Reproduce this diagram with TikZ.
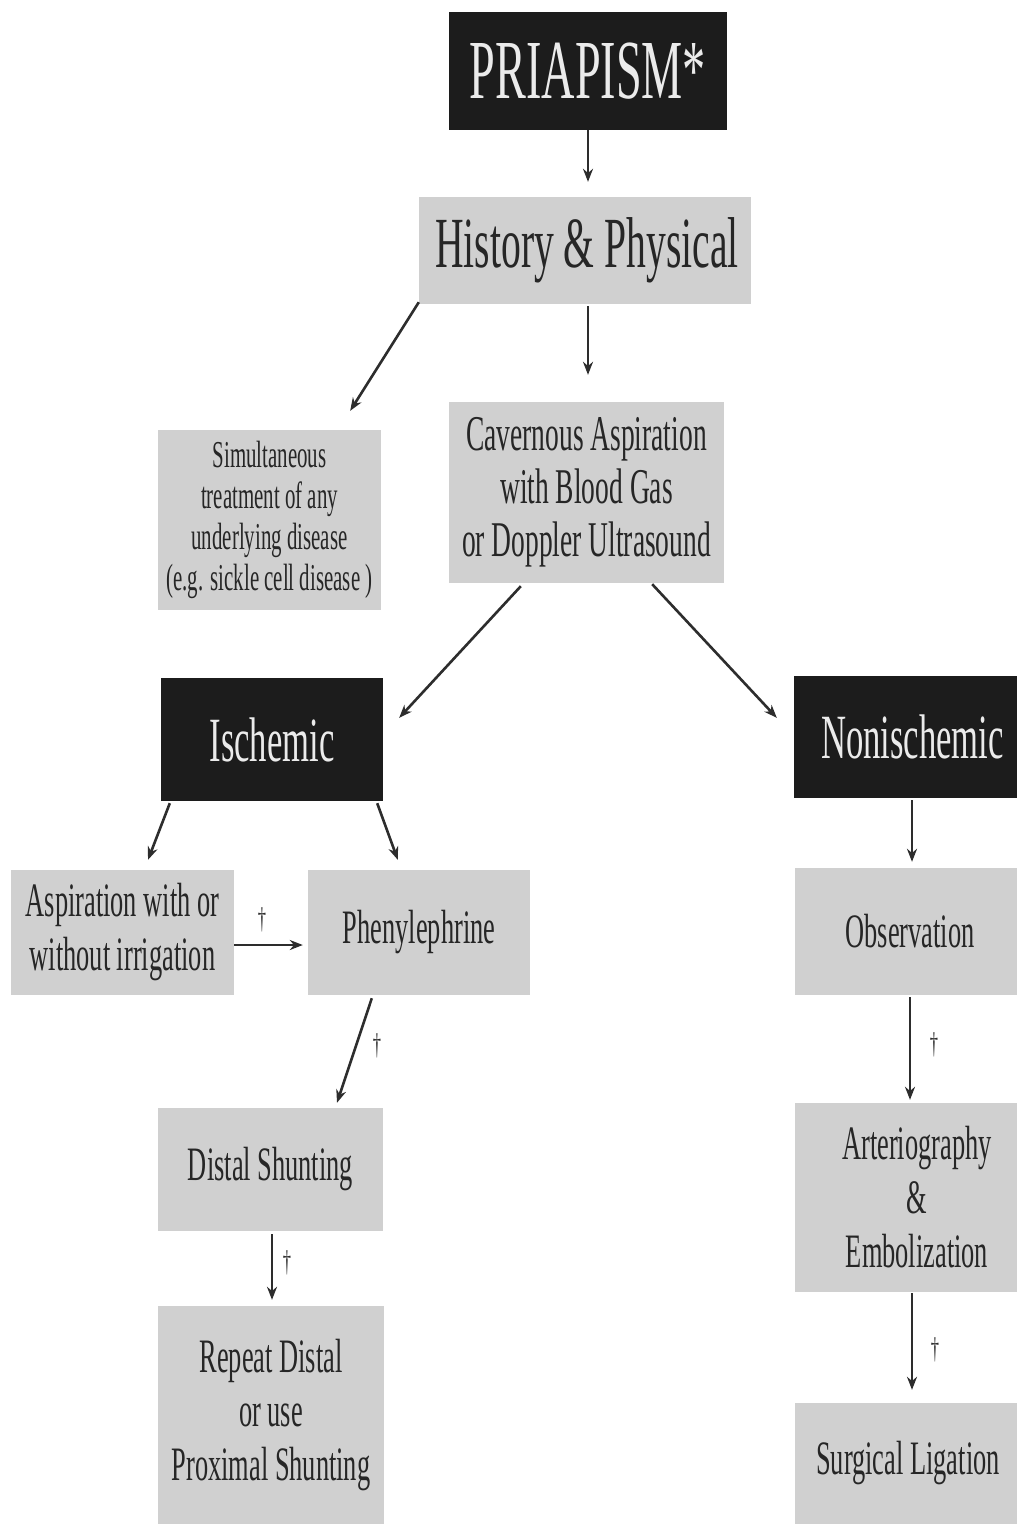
\documentclass[tikz,border=0pt]{standalone}
\usepackage{fontspec}
\setmainfont{Liberation Serif}[FakeStretch=0.55]
\usetikzlibrary{arrows.meta,calc}
\definecolor{boxgray}{RGB}{208,208,208}
\definecolor{boxblack}{RGB}{28,28,28}
\definecolor{inkgray}{RGB}{38,38,38}
\definecolor{arrgray}{RGB}{45,45,45}
\begin{document}
\begin{tikzpicture}[x=1pt,y=-1pt,
  graybox/.style={fill=boxgray,draw=none,inner sep=0pt,align=center,text=inkgray,
     font=\fontsize{48}{54}\selectfont},
  blackbox/.style={fill=boxblack,draw=none,inner sep=0pt,align=center,text=white!92!black},
  arr/.style={draw=arrgray,line width=2.6pt,-{Stealth[length=13pt,width=10pt]}},
  dagger/.style={text=arrgray,inner sep=0pt,font=\fontsize{30}{30}\selectfont}]
\useasboundingbox (0,0) rectangle (1017,1524);
\fill[white] (0,0) rectangle (1017,1524);

\node[blackbox,minimum width=278pt,minimum height=118pt,font=\fontsize{84}{84}\selectfont] (pri) at (588,71) {PRIAPISM*};
\node[graybox,minimum width=332pt,minimum height=107pt,font=\fontsize{72}{72}\selectfont] (hp) at (585,250.5) {\hspace*{4pt}History \& Physical};
\node[graybox,minimum width=223pt,minimum height=180pt,font=\fontsize{38}{41}\selectfont] (sim) at (269.5,520) {Simultaneous\\treatment of any\\underlying disease\\(e.g. sickle cell disease )};
\node[graybox,minimum width=275pt,minimum height=181pt,font=\fontsize{50}{53}\selectfont] (cav) at (586.5,492.5) {Cavernous Aspiration\\with Blood Gas\\or Doppler Ultrasound};
\node[blackbox,minimum width=222pt,minimum height=123pt,font=\fontsize{63}{63}\selectfont] (isc) at (272,739.5) {Ischemic};
\node[blackbox,minimum width=223pt,minimum height=122pt,font=\fontsize{63}{63}\selectfont] (non) at (905.5,737) {\hspace*{14pt}Nonischemic};
\node[graybox,minimum width=223pt,minimum height=125pt] (asp) at (122.5,932.5) {Aspiration with or\\without irrigation};
\node[graybox,minimum width=222pt,minimum height=125pt] (phe) at (419,932.5) {Phenylephrine};
\node[graybox,minimum width=225pt,minimum height=123pt] (dis) at (270.5,1169.5) {Distal Shunting};
\node[graybox,minimum width=226pt,minimum height=218pt] (rep) at (271,1415) {Repeat Distal\\or use\\Proximal Shunting};
\node[graybox,minimum width=222pt,minimum height=127pt] (obs) at (906,931.5) {\hspace*{8pt}Observation};
\node[graybox,minimum width=222pt,minimum height=189pt] (art) at (906,1197.5) {\hspace*{22pt}Arteriography\\\hspace*{22pt}\&\\\hspace*{22pt}Embolization};
\node[graybox,minimum width=222pt,minimum height=121pt] (sur) at (906,1463.5) {\hspace*{4pt}Surgical Ligation};

% connectors
\draw[arr] (pri.south) -- ($(pri.south |- hp.north)+(0,-15)$);
\draw[arr] ($(hp.south)+(3,2)$) -- ($(hp.south |- cav.north)+(3,-27)$);
\draw[arr] ($(hp.south west)+(0,-2)$) -- ($(sim.north east)+(-31,-19)$);
\draw[arr] ($(cav.south west)+(72,3)$) -- ($(isc.north east)+(16,40)$);
\draw[arr] ($(cav.south east)+(-72,1)$) -- ($(non.north west)+(-17,42)$);
\draw[arr] ($(isc.south west)+(9,2)$) -- ($(asp.north)+(25.5,-10)$);
\draw[arr] ($(isc.south east)+(-6,2)$) -- ($(phe.north west)+(90,-10)$);
\draw[arr] ($(asp.east)+(0,12.5)$) -- ($(phe.west)+(-5,12.5)$);
\draw[arr] ($(phe.south west)+(64,3)$) -- ($(dis.north)+(66.5,-5)$);
\draw[arr] ($(dis.south)+(1.5,3)$) -- ($(rep.north)+(1,-6)$);
\draw[arr] ($(non.south)+(6.5,2)$) -- ($(obs.north)+(6,-6)$);
\draw[arr] ($(obs.south)+(4,2)$) -- ($(art.north)+(4,-3)$);
\draw[arr] ($(art.south)+(6,1)$) -- ($(sur.north)+(6,-13)$);

% dagger marks
\node[dagger] (d1) at (262,920) {†};
\node[dagger] (d2) at (377,1046) {†};
\node[dagger] (d3) at (287,1263) {†};
\node[dagger] (d4) at (934,1045) {†};
\node[dagger] (d5) at (935,1350) {†};
\end{tikzpicture}
\end{document}
